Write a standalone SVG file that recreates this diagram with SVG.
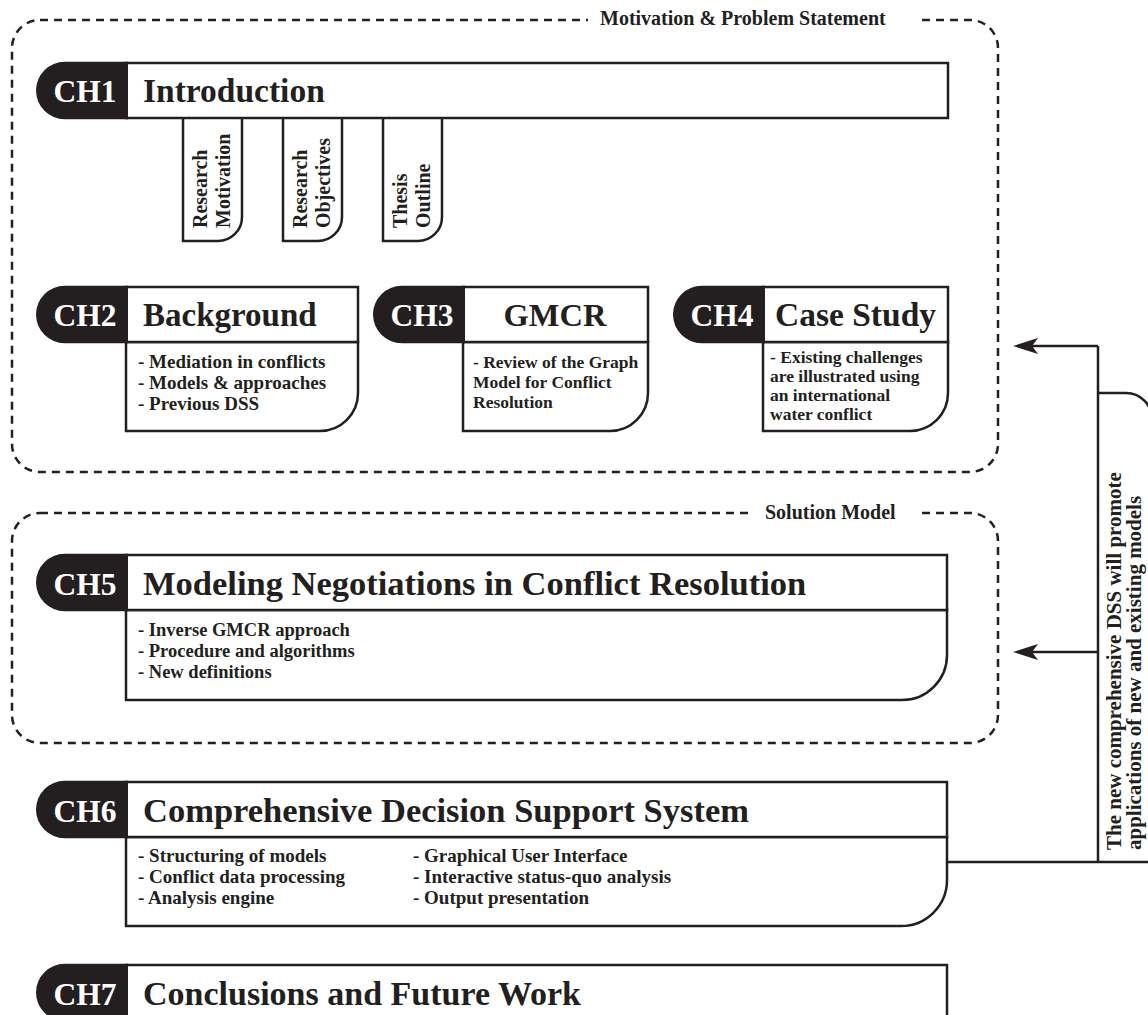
<svg xmlns="http://www.w3.org/2000/svg" width="1148" height="1015" viewBox="0 0 1148 1015">
<defs>
<style>
.dash{fill:none;stroke:#231f20;stroke-width:2.5;stroke-dasharray:8 6}
.box{fill:#fff;stroke:#231f20;stroke-width:2.5}
.pill{fill:#231f20}
.ln{fill:none;stroke:#231f20;stroke-width:2.5}
.ch{font-family:"Liberation Serif",serif;font-weight:bold;font-size:31.5px;fill:#fff;text-anchor:middle}
.t{font-family:"Liberation Serif",serif;font-weight:bold;fill:#231f20}
.grp{font-family:"Liberation Serif",serif;font-weight:bold;font-size:20px;fill:#231f20}
</style>
<marker id="ah" viewBox="-9 -9 27 18" refX="0" refY="0" markerWidth="27" markerHeight="18" markerUnits="userSpaceOnUse" orient="auto">
<path d="M17,0 L-8,-8 L-2,0 L-8,8 Z" fill="#231f20"/>
</marker>
</defs>
<rect width="1148" height="1015" fill="#fff"/>

<g id="group-motivation">
<rect class="dash" x="12" y="20" width="986" height="452" rx="28"/>
<rect x="588" y="8" width="334" height="24" fill="#fff"/>
<text class="grp" x="600" y="25">Motivation &amp; Problem Statement</text>
</g>

<g id="group-solution">
<rect class="dash" x="12" y="513" width="986" height="230" rx="28"/>
<rect x="752" y="501" width="170" height="24" fill="#fff"/>
<text class="grp" x="765" y="519">Solution Model</text>
</g>

<g id="connectors">
<path class="ln" d="M947,862 H1148"/>
<path class="ln" d="M1098,862 V346"/>
<path class="ln" d="M1098,346 H1030" marker-end="url(#ah)"/>
<path class="ln" d="M1098,652 H1030" marker-end="url(#ah)"/>
<path class="ln" d="M1098,393 H1126 A26,26 0 0 1 1152,419 V862"/>
<g class="t" font-size="21">
<text transform="translate(1121,850) rotate(-90)">
<tspan x="0" y="0">The new comprehensive DSS will promote</tspan>
<tspan x="0" y="20">applications of new and existing models</tspan>
</text>
</g>
</g>

<g id="ch1">
<path class="box" d="M183,118 V241 H218 A24,24 0 0 0 242,217 V118"/>
<path class="box" d="M283,118 V241 H318 A24,24 0 0 0 342,217 V118"/>
<path class="box" d="M383,118 V241 H418 A24,24 0 0 0 442,217 V118"/>
<rect class="box" x="126" y="63" width="822" height="55"/>
<path class="pill" d="M128,61.75 H64.75 A28.75,28.75 0 0 0 64.75,119.25 H128 Z"/>
<text class="ch" x="85" y="102">CH1</text>
<text class="t" x="143" y="102" font-size="33.5">Introduction</text>
<g class="t" font-size="20">
<text transform="translate(207,228) rotate(-90)"><tspan x="0" y="0">Research</tspan><tspan x="0" y="23">Motivation</tspan></text>
<text transform="translate(307,228) rotate(-90)"><tspan x="0" y="0">Research</tspan><tspan x="0" y="23">Objectives</tspan></text>
<text transform="translate(407,228) rotate(-90)"><tspan x="0" y="0">Thesis</tspan><tspan x="0" y="23">Outline</tspan></text>
</g>
</g>

<g id="ch2">
<path class="box" d="M126,342 H358 V393 A38,38 0 0 1 320,431 H126 Z"/>
<rect class="box" x="126" y="287" width="232" height="55"/>
<path class="pill" d="M128,285.75 H64.75 A28.75,28.75 0 0 0 64.75,343.25 H128 Z"/>
<text class="ch" x="85" y="326">CH2</text>
<text class="t" x="143" y="326" font-size="33">Background</text>
<g class="t" font-size="19">
<text x="138" y="368">- Mediation in conflicts</text>
<text x="138" y="389">- Models &amp; approaches</text>
<text x="138" y="410">- Previous DSS</text>
</g>
</g>

<g id="ch3">
<path class="box" d="M463,342 H648 V393 A38,38 0 0 1 610,431 H463 Z"/>
<rect class="box" x="463" y="287" width="185" height="55"/>
<path class="pill" d="M465,285.75 H401.75 A28.75,28.75 0 0 0 401.75,343.25 H465 Z"/>
<text class="ch" x="422" y="326">CH3</text>
<text class="t" x="555" y="326" font-size="32.5" text-anchor="middle">GMCR</text>
<g class="t" font-size="17.5">
<text x="473" y="368">- Review of the Graph</text>
<text x="473" y="388">Model for Conflict</text>
<text x="473" y="408">Resolution</text>
</g>
</g>

<g id="ch4">
<path class="box" d="M763,342 H948 V393 A38,38 0 0 1 910,431 H763 Z"/>
<rect class="box" x="763" y="287" width="185" height="55"/>
<path class="pill" d="M765,285.75 H701.75 A28.75,28.75 0 0 0 701.75,343.25 H765 Z"/>
<text class="ch" x="722" y="326">CH4</text>
<text class="t" x="775" y="326" font-size="33.5">Case Study</text>
<g class="t" font-size="17.5">
<text x="770" y="363">- Existing challenges</text>
<text x="770" y="382">are illustrated using</text>
<text x="770" y="401">an international</text>
<text x="770" y="420">water conflict</text>
</g>
</g>

<g id="ch5">
<path class="box" d="M126,610 H947 V655 A45,45 0 0 1 902,700 H126 Z"/>
<rect class="box" x="126" y="555" width="821" height="55"/>
<path class="pill" d="M128,553.75 H64.75 A28.75,28.75 0 0 0 64.75,611.25 H128 Z"/>
<text class="ch" x="85" y="595">CH5</text>
<text class="t" x="143" y="595" font-size="34.5">Modeling Negotiations in Conflict Resolution</text>
<g class="t" font-size="18.5">
<text x="138" y="636">- Inverse GMCR approach</text>
<text x="138" y="657">- Procedure and algorithms</text>
<text x="138" y="678">- New definitions</text>
</g>
</g>

<g id="ch6">
<path class="box" d="M126,837 H947 V880 A46,46 0 0 1 901,926 H126 Z"/>
<rect class="box" x="126" y="782" width="821" height="55"/>
<path class="pill" d="M128,780.75 H64.75 A28.75,28.75 0 0 0 64.75,838.25 H128 Z"/>
<text class="ch" x="85" y="822">CH6</text>
<text class="t" x="143" y="822" font-size="34.5">Comprehensive Decision Support System</text>
<g class="t" font-size="19">
<text x="138" y="862">- Structuring of models</text>
<text x="138" y="883">- Conflict data processing</text>
<text x="138" y="904">- Analysis engine</text>
<text x="413" y="862">- Graphical User Interface</text>
<text x="413" y="883">- Interactive status-quo analysis</text>
<text x="413" y="904">- Output presentation</text>
</g>
</g>

<g id="ch7">
<rect class="box" x="126" y="965" width="821" height="55"/>
<path class="pill" d="M128,963.75 H64.75 A28.75,28.75 0 0 0 64.75,1021.25 H128 Z"/>
<text class="ch" x="85" y="1005">CH7</text>
<text class="t" x="143" y="1005" font-size="34">Conclusions and Future Work</text>
</g>
</svg>
